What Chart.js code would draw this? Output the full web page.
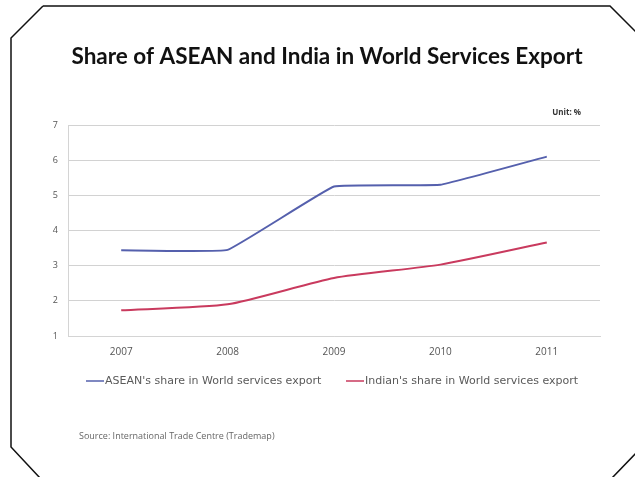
<!DOCTYPE html>
<html>
<head>
<meta charset="utf-8">
<title>Share of ASEAN and India in World Services Export</title>
<script src="https://cdn.jsdelivr.net/npm/chart.js@4"></script>
<style>
  html, body { margin: 0; padding: 0; background: #fff; }
  #chart { display: block; }
</style>
</head>
<body>
<canvas id="chart" width="635" height="477"></canvas>
<script>
const years = ['2007', '2008', '2009', '2010', '2011']
const aseanShare = [3.44, 3.45, 5.25, 5.3, 6.1]
const indiaShare = [1.73, 1.9, 2.65, 3.03, 3.66]
const yTicks = [1, 2, 3, 4, 5, 6, 7]

const titleText = 'Share of ASEAN and India in World Services Export'
const unitText = 'Unit: %'
const sourceText = 'Source: International Trade Centre (Trademap)'

// legend entries start here, line then label, no gap in between
const legendX = [86, 346]
const legendY = 381

// title, unit note, legend, source line and the cut-corner frame
const decorations = {
  id: 'decorations',
  beforeDraw(chart) {
    const c = chart.ctx
    c.save()
    c.fillStyle = '#fff'
    c.fillRect(0, 0, chart.width, chart.height)
    c.restore()
  },
  afterDraw(chart) {
    const c = chart.ctx
    c.save()
    c.fillStyle = '#111'
    c.textAlign = 'center'
    c.textBaseline = 'middle'
    c.font = 'bold 22.5px Lato'
    c.fillText(titleText, 327, 57)

    c.fillStyle = '#333'
    c.textAlign = 'right'
    c.font = 'bold 8px "Open Sans"'
    c.fillText(unitText, 581, 113)

    // legend
    c.textAlign = 'left'
    c.font = '11px "DejaVu Sans"'
    chart.data.datasets.forEach((ds, i) => {
      const x = legendX[i]
      c.strokeStyle = ds.borderColor
      c.lineWidth = 1.5
      c.beginPath()
      c.moveTo(x, legendY)
      c.lineTo(x + 18, legendY)
      c.stroke()
      c.fillStyle = '#5a5a5a'
      c.fillText(ds.label, x + 19, legendY)
    })

    c.fillStyle = '#666'
    c.font = '9px "Open Sans"'
    c.fillText(sourceText, 79, 436)

    c.strokeStyle = '#111'
    c.lineWidth = 1.5
    c.beginPath()
    c.moveTo(43, 6)
    c.lineTo(610, 6)
    c.lineTo(637, 33)
    c.moveTo(637, 452)
    c.lineTo(612, 478)
    c.moveTo(40, 478)
    c.lineTo(11, 447)
    c.lineTo(11, 38)
    c.lineTo(43, 6)
    c.stroke()
    c.restore()
  }
}

new Chart(document.getElementById('chart'), {
  type: 'line',
  data: {
    labels: years,
    datasets: [
      {
        label: "ASEAN's share in World services export",
        data: aseanShare,
        borderColor: '#5560ad',
        backgroundColor: '#5560ad',
        borderWidth: 2,
        pointRadius: 0,
        tension: 0.08,
        fill: false
      },
      {
        label: "Indian's share in World services export",
        data: indiaShare,
        borderColor: '#c93a5e',
        backgroundColor: '#c93a5e',
        borderWidth: 2,
        pointRadius: 0,
        tension: 0.2,
        fill: false
      }
    ]
  },
  options: {
    responsive: false,
    animation: false,
    layout: {
      padding: { left: 48, right: 35, top: 125, bottom: 111 }
    },
    scales: {
      x: {
        offset: true,
        grid: { display: false, drawTicks: false },
        border: { color: '#d4d4d4', width: 1 },
        ticks: {
          color: '#555',
          font: { family: 'Open Sans', size: 10 },
          padding: 10,
          maxRotation: 0
        },
        afterFit(scale) { scale.height = 30 }
      },
      y: {
        min: 1,
        max: 7,
        afterBuildTicks(scale) {
          scale.ticks = yTicks.map(v => ({ value: v }))
        },
        grid: { color: '#d2d2d2', drawTicks: false },
        border: { color: '#d4d4d4', width: 1 },
        ticks: {
          color: '#555',
          font: { family: 'Open Sans', size: 9 },
          padding: 10
        },
        afterFit(scale) { scale.width = 20 }
      }
    },
    plugins: {
      title: { display: false },
      legend: { display: false },
      tooltip: { enabled: false }
    }
  },
  plugins: [decorations]
})
</script>
</body>
</html>
